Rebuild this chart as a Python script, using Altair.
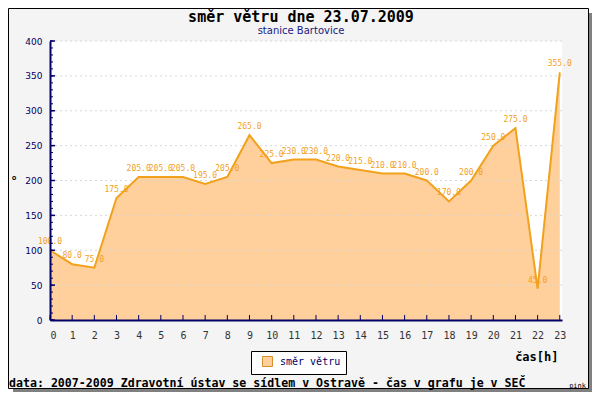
import altair as alt
import pandas as pd

# ---- data ----
hours = list(range(24))
direction = [100, 80, 75, 175, 205, 205, 205, 195, 205, 265, 225, 230,
             230, 220, 215, 210, 210, 200, 170, 200, 250, 275, 45, 355]
series_name = "směr větru"
y_grid = [50, 100, 150, 200, 250, 300, 350, 400]
y_major = [0, 50, 100, 150, 200, 250, 300, 350, 400]
y_minor = list(range(0, 401, 10))
x_ticks = hours
title_text = "směr větru dne 23.07.2009"
subtitle_text = "stanice Bartovice"
footer_text = "data: 2007-2009 Zdravotní ústav se sídlem v Ostravě - čas v grafu je v SEČ"

W, H = 512, 279
NAVY = "#000066"
ORANGE = "#f2a11c"
FILL = "#ffcf9c"
MONO = "DejaVu Sans Mono"

xs = alt.Scale(domain=[0, 23.1], nice=False, zero=False)
ys = alt.Scale(domain=[0, 400], nice=False)

xaxis = alt.Axis(
    values=x_ticks, labelFont=MONO, labelFontSize=10, labelColor="#333333",
    domainColor=NAVY, domainWidth=2, ticks=False, tickSize=0, grid=False,
    labelPadding=10, labelOverlap=False, zindex=1,
    title="čas[h]", titleX=508, titleY=36, titleAlign="right", titleBaseline="middle",
    titleFont=MONO, titleFontSize=12, titleFontWeight="bold", titleColor="black")
yaxis = alt.Axis(
    values=y_major, labelFont="DejaVu Sans", labelFontSize=9, labelColor=NAVY,
    domainColor=NAVY, domainWidth=2, ticks=False, tickSize=0, grid=False,
    labelPadding=8, labelOverlap=False, zindex=1,
    title="°", titleAngle=0, titleX=-40, titleY=139, titleAlign="left",
    titleBaseline="middle", titleFont=MONO, titleFontSize=12,
    titleFontWeight="bold", titleColor="black")

df = pd.DataFrame({"h": hours, "v": direction, "s": [series_name] * len(hours)})
one = pd.DataFrame({"a": [0]})

shadow = alt.Chart(one).mark_rect(fill="#808080").encode(
    x=alt.value(-37), x2=alt.value(542), y=alt.value(-28), y2=alt.value(351))
panel = alt.Chart(one).mark_rect(fill="#f4f4f4", stroke="black", strokeWidth=1).encode(
    x=alt.value(-41.5), x2=alt.value(538.5), y=alt.value(-32.5), y2=alt.value(347.5))
plotbg = alt.Chart(one).mark_rect(fill="white").encode(
    x=alt.value(0), x2=alt.value(W), y=alt.value(0), y2=alt.value(H))

area = alt.Chart(df).mark_area(opacity=1).encode(
    x=alt.X("h:Q", scale=xs, axis=xaxis),
    y=alt.Y("v:Q", scale=ys, axis=yaxis),
    fill=alt.Fill("s:N", scale=alt.Scale(range=[FILL]), legend=alt.Legend(
        title=None, orient="none", legendX=201, legendY=310,
        fillColor="white", strokeColor="black", padding=5,
        symbolType="square", symbolSize=100, symbolStrokeColor="#d89030",
        symbolStrokeWidth=1, symbolOffset=6,
        labelFont=MONO, labelFontSize=10, labelColor=NAVY, labelOffset=7)),
)

grid = alt.Chart(pd.DataFrame({"v": y_grid})).mark_rule(
    color="#d4d4d4", strokeDash=[2, 3], opacity=0.9).encode(
    y=alt.Y("v:Q", scale=ys, axis=yaxis), x=alt.value(0), x2=alt.value(W))

line = alt.Chart(df).mark_line(color=ORANGE, strokeWidth=2).encode(
    x=alt.X("h:Q", scale=xs, axis=xaxis), y=alt.Y("v:Q", scale=ys, axis=yaxis))

labels = alt.Chart(df).mark_text(dy=-8, font=MONO, fontSize=8, color=ORANGE).encode(
    x=alt.X("h:Q", scale=xs, axis=xaxis), y=alt.Y("v:Q", scale=ys, axis=yaxis),
    text=alt.Text("v:Q", format=".1f"))

yminor = alt.Chart(pd.DataFrame({"v": y_minor})).mark_rule(color=NAVY).encode(
    y=alt.Y("v:Q", scale=ys, axis=yaxis), x=alt.value(0), x2=alt.value(3))
ymajor = alt.Chart(pd.DataFrame({"v": y_major})).mark_rule(color=NAVY, strokeWidth=1.5).encode(
    y=alt.Y("v:Q", scale=ys, axis=yaxis), x=alt.value(0), x2=alt.value(5))
xtick = alt.Chart(pd.DataFrame({"h": x_ticks})).mark_rule(color=NAVY).encode(
    x=alt.X("h:Q", scale=xs, axis=xaxis), y=alt.value(H), y2=alt.value(H - 5))

legend_shadow = alt.Chart(one).mark_rect(fill="#9a9a9a").encode(
    x=alt.value(203), x2=alt.value(296), y=alt.value(312), y2=alt.value(333))

title_mark = alt.Chart(pd.DataFrame({"t": [title_text]})).mark_text(
    font=MONO, fontSize=15, fontWeight="bold", color="black", align="center",
    baseline="middle").encode(x=alt.value(251), y=alt.value(-24), text="t:N")
subtitle_mark = alt.Chart(pd.DataFrame({"t": [subtitle_text]})).mark_text(
    font="DejaVu Sans", fontSize=10, color="#1a1a80", align="center",
    baseline="middle").encode(x=alt.value(251), y=alt.value(-10), text="t:N")

footer = alt.Chart(pd.DataFrame({"t": [footer_text]})).mark_text(
    font=MONO, fontSize=11.6, fontWeight="bold", color="black", align="left",
    baseline="middle").encode(x=alt.value(-41), y=alt.value(343), text="t:N")
pink = alt.Chart(pd.DataFrame({"t": ["pink"]})).mark_text(
    font=MONO, fontSize=7, color="black", align="right", baseline="middle").encode(
    x=alt.value(536), y=alt.value(345), text="t:N")

chart = alt.layer(
    shadow, panel, plotbg, area, grid, line, labels, yminor, ymajor, xtick,
    legend_shadow, title_mark, subtitle_mark, footer, pink
).properties(
    width=W, height=H,
    padding={"left": 42, "top": 33, "right": 30, "bottom": 72},
    autosize=alt.AutoSizeParams(type="none"),
).configure_view(stroke=None).configure(background="white")

chart.save("out.html", embed_options={"renderer": "svg", "actions": False})
